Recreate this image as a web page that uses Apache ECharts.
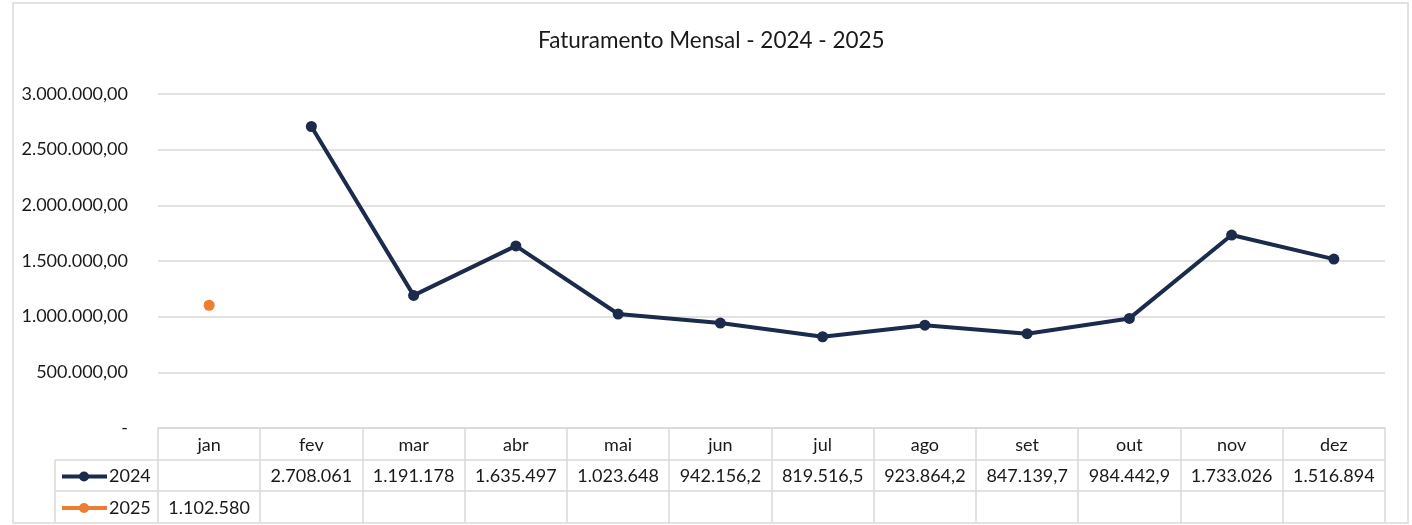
<!DOCTYPE html>
<html>
<head>
<meta charset="utf-8">
<script src="https://cdn.jsdelivr.net/npm/echarts@6/dist/echarts.min.js"></script>
<style>
  html, body { margin: 0; padding: 0; background: #fff; }
  #chartmain { width: 1412px; height: 525px; }
</style>
</head>
<body>
<div id="chartmain"></div>
<script>
// dados do gráfico
var meses = ['jan', 'fev', 'mar', 'abr', 'mai', 'jun', 'jul', 'ago', 'set', 'out', 'nov', 'dez'];
var fat2024 = [null, 2708061, 1191178, 1635497, 1023648, 942156.2, 819516.5, 923864.2, 847139.7, 984442.9, 1733026, 1516894];
var fat2025 = [1102580, null, null, null, null, null, null, null, null, null, null, null];

var corNavy = '#1B2B4C';
var corLaranja = '#ED7D31';
var corGrade = '#D9D9D9';
var corTexto = '#1a1a1a';
var fonte = 'Lato';
var tamFonte = 18;

// formato brasileiro 1.234.567,89
function fmtBR(v) {
  var neg = v < 0;
  var s = Math.abs(v).toFixed(2);
  var p = s.split('.');
  var inteiro = p[0].replace(/\B(?=(\d{3})+(?!\d))/g, '.');
  return (neg ? '-' : '') + inteiro + ',' + p[1];
}

var G = { left: 158, right: 27, top: 94, bottom: 97 };

var option = {
  animation: false,
  backgroundColor: '#fff',
  title: {
    text: 'Faturamento Mensal - 2024 - 2025',
    left: 533,
    top: 24,
    textStyle: { fontFamily: fonte, fontSize: 22.5, fontWeight: 'normal', color: corTexto }
  },
  grid: { left: G.left, right: G.right, top: G.top, bottom: G.bottom },
  xAxis: {
    type: 'category',
    data: meses,
    boundaryGap: true,
    axisLine: { show: true, lineStyle: { color: corGrade, width: 1.5 } },
    axisTick: { show: false },
    axisLabel: { margin: 8, fontFamily: fonte, fontSize: tamFonte, color: corTexto }
  },
  yAxis: {
    type: 'value',
    min: 0,
    max: 3000000,
    interval: 500000,
    axisLine: { show: false },
    axisTick: { show: false },
    splitLine: { lineStyle: { color: corGrade, width: 1.5 } },
    axisLabel: {
      margin: 30,
      fontFamily: fonte,
      fontSize: tamFonte,
      color: corTexto,
      formatter: function (v) { return v === 0 ? '-' : fmtBR(v); }
    }
  },
  series: [
    {
      name: '2024',
      type: 'line',
      data: fat2024,
      connectNulls: false,
      symbol: 'circle',
      symbolSize: 11,
      lineStyle: { color: corNavy, width: 4 },
      itemStyle: { color: corNavy }
    },
    {
      name: '2025',
      type: 'line',
      data: fat2025,
      symbol: 'circle',
      symbolSize: 11,
      lineStyle: { color: corLaranja, width: 4 },
      itemStyle: { color: corLaranja }
    }
  ]
};

var myChart = echarts.init(document.getElementById('chartmain'));
myChart.setOption(option);

// tabela de dados abaixo do eixo
var W = 1412, H = 525;
var yTopo = H - G.bottom;       // linha do zero
var yLinha1 = yTopo + 32;
var yLinha2 = yLinha1 + 31;
var yFim = 523;
var xEsq = 55;
var xIni = G.left, xFimGrid = W - G.right;
var larg = (xFimGrid - xIni) / meses.length;

var els = [];
// borda externa
els.push({ type: 'rect', shape: { x: 13, y: 3, width: 1395, height: 520 },
  style: { fill: null, stroke: corGrade, lineWidth: 1.5 }, silent: true, z: 0 });

function linha(x1, y1, x2, y2) {
  els.push({ type: 'line', shape: { x1: x1, y1: y1, x2: x2, y2: y2 },
    style: { stroke: corGrade, lineWidth: 1.5 }, silent: true, z: 1 });
}
linha(xEsq, yLinha1, xFimGrid, yLinha1);
linha(xEsq, yLinha2, xFimGrid, yLinha2);
linha(xEsq, yLinha1, xEsq, yFim);
for (var i = 0; i <= meses.length; i++) {
  var xb = Math.round(xIni + i * larg);
  linha(xb, yTopo, xb, yFim);
}

var linhasSerie = [
  { nome: '2024', dados: fat2024, cor: corNavy, y: (yLinha1 + yLinha2) / 2 + 1 },
  { nome: '2025', dados: fat2025, cor: corLaranja, y: (yLinha2 + yFim) / 2 + 1 }
];
linhasSerie.forEach(function (ls) {
  // chave da legenda
  els.push({ type: 'line', shape: { x1: 62, y1: ls.y, x2: 107, y2: ls.y },
    style: { stroke: ls.cor, lineWidth: 4 }, silent: true, z: 2 });
  els.push({ type: 'circle', shape: { cx: 84, cy: ls.y, r: 5 },
    style: { fill: ls.cor }, silent: true, z: 3 });
  els.push({ type: 'text', x: 109, y: ls.y,
    style: { text: ls.nome, fontFamily: fonte, fontSize: tamFonte, fill: corTexto,
      align: 'left', verticalAlign: 'middle' }, silent: true, z: 3 });
  ls.dados.forEach(function (v, idx) {
    if (v == null) return;
    var cx = myChart.convertToPixel({ xAxisIndex: 0 }, meses[idx]);
    els.push({ type: 'text', x: cx, y: ls.y,
      style: { text: fmtBR(v), width: 88, overflow: 'truncate', ellipsis: '',
        fontFamily: fonte, fontSize: tamFonte, fill: corTexto,
        align: 'center', verticalAlign: 'middle' }, silent: true, z: 3 });
  });
});

myChart.setOption({ graphic: { elements: els } });
</script>
</body>
</html>
